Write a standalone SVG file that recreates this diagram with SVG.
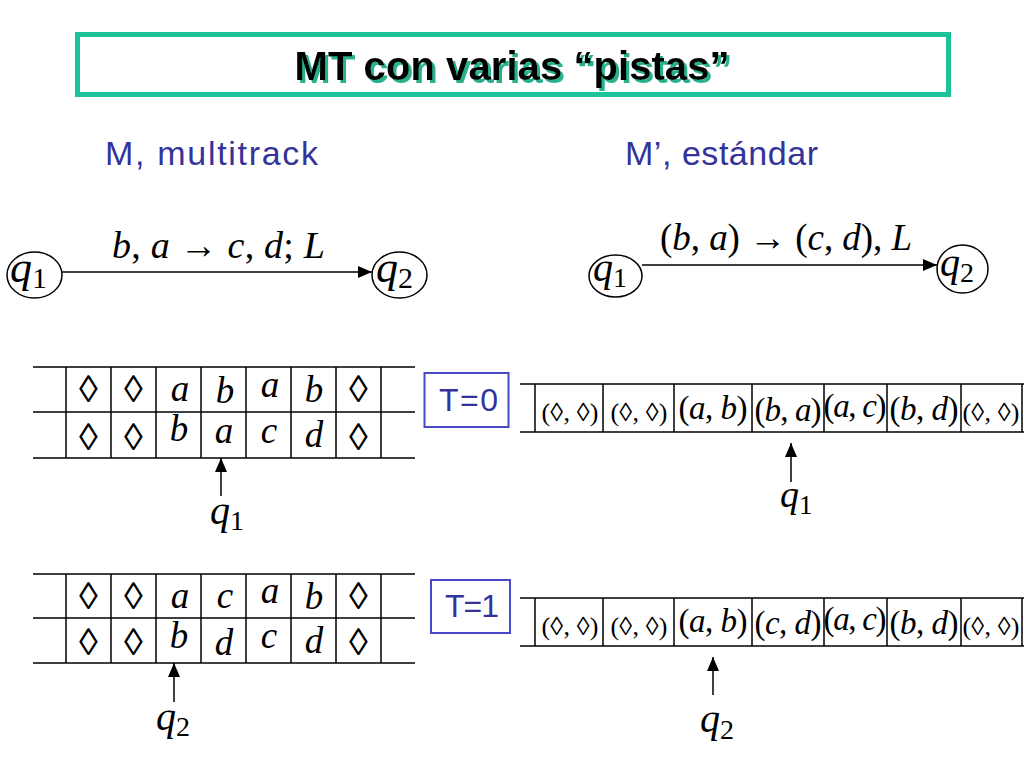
<svg xmlns="http://www.w3.org/2000/svg" width="1024" height="768" viewBox="0 0 1024 768">
<defs>
<marker id="ah" viewBox="0 0 14 12" refX="14" refY="6" markerWidth="14" markerHeight="12" markerUnits="userSpaceOnUse" orient="auto"><path d="M0,0 L14,6 L0,12 z" fill="#000"/></marker>
<filter id="sh" x="-5%" y="-20%" width="110%" height="150%">
<feFlood flood-color="#2ab08c"/><feComposite in2="SourceAlpha" operator="in"/><feOffset dx="3" dy="3"/>
<feMerge><feMergeNode/><feMergeNode in="SourceGraphic"/></feMerge>
</filter>
<style>
.m{font-family:"Liberation Serif","Times New Roman",serif;fill:#000}
.i{font-style:italic}
.ln{stroke:#000;stroke-width:1.5;fill:none}
.st{fill:#fff;stroke:#000;stroke-width:1.5}
.blue{font-family:"Liberation Sans",Arial,sans-serif;fill:#333399}
.tb{fill:#fff;stroke:#4848c8;stroke-width:2}
.dm{font-size:38px;text-anchor:middle}
.lt{font-size:37px;text-anchor:middle;font-style:italic}
.pr{text-anchor:middle}
</style>
</defs>
<rect width="1024" height="768" fill="#fff"/>

<g id="title">
<rect x="77.5" y="34.5" width="871" height="60" fill="#fff" stroke="#1cc29a" stroke-width="5"/>
<text x="512" y="80" text-anchor="middle" textLength="435" font-family="Liberation Sans, Arial, sans-serif" font-weight="bold" font-size="40" fill="#000" filter="url(#sh)">MT con varias “pistas”</text>
</g>

<g id="subtitle-m">
<text class="blue" x="105" y="165" font-size="34" textLength="213">M, multitrack</text>
</g>
<g id="subtitle-mp">
<text class="blue" x="625" y="165" font-size="34" textLength="193">M’, estándar</text>
</g>

<g id="m-q1">
<ellipse class="st" cx="34.5" cy="275" rx="27.5" ry="23"/>
<text class="m" x="10" y="282" font-size="44"><tspan class="i">q</tspan><tspan font-size="30" dy="6">1</tspan></text>
</g>
<g id="m-q2">
<ellipse class="st" cx="399.5" cy="275" rx="27.5" ry="23"/>
<text class="m" x="376" y="282" font-size="44"><tspan class="i">q</tspan><tspan font-size="30" dy="6">2</tspan></text>
</g>
<g id="m-label">
<text class="m" x="112" y="258" font-size="38" textLength="213"><tspan class="i">b</tspan>, <tspan class="i">a</tspan> → <tspan class="i">c</tspan>, <tspan class="i">d</tspan>; <tspan class="i">L</tspan></text>
</g>

<g id="mp-q1">
<ellipse class="st" cx="615.5" cy="276" rx="26.5" ry="21"/>
<text class="m" x="593" y="281" font-size="40"><tspan class="i">q</tspan><tspan font-size="28" dy="6">1</tspan></text>
</g>
<g id="mp-q2">
<ellipse class="st" cx="962.5" cy="269" rx="25.5" ry="24"/>
<text class="m" x="940" y="276" font-size="40"><tspan class="i">q</tspan><tspan font-size="28" dy="6">2</tspan></text>
</g>
<g id="mp-label">
<text class="m" x="660" y="250" font-size="37" textLength="252">(<tspan class="i">b</tspan>, <tspan class="i">a</tspan>) → (<tspan class="i">c</tspan>, <tspan class="i">d</tspan>), <tspan class="i">L</tspan></text>
</g>

<g id="tape-m-t0">
<path class="ln" d="M33,367H415M33,412H415M33,458H415M66,367V458M111,367V458M156,367V458M201,367V458M246,367V458M291,367V458M336,367V458M381,367V458"/>
<g class="m">
<text class="dm" x="88.5" y="402">◊</text><text class="dm" x="133.5" y="402">◊</text>
<text class="lt" x="180" y="401">a</text><text class="lt" x="225" y="403">b</text><text class="lt" x="270" y="397">a</text><text class="lt" x="314" y="402">b</text>
<text class="dm" x="358.5" y="402">◊</text>
<text class="dm" x="88.5" y="450">◊</text><text class="dm" x="133.5" y="450">◊</text>
<text class="lt" x="179" y="441">b</text><text class="lt" x="224" y="443">a</text><text class="lt" x="269" y="443">c</text><text class="lt" x="314" y="447">d</text>
<text class="dm" x="358.5" y="450">◊</text>
</g>
</g>
<g id="head-m-t0">
<text class="m" x="210" y="524" font-size="40"><tspan class="i">q</tspan><tspan font-size="28" dy="6">1</tspan></text>
</g>

<g id="tape-m-t1">
<path class="ln" d="M33,574H415M33,618H415M33,663H415M66,574V663M111,574V663M156,574V663M201,574V663M246,574V663M291,574V663M336,574V663M381,574V663"/>
<g class="m">
<text class="dm" x="88.5" y="609">◊</text><text class="dm" x="133.5" y="609">◊</text>
<text class="lt" x="180" y="608">a</text><text class="lt" x="225" y="608">c</text><text class="lt" x="270" y="603">a</text><text class="lt" x="314" y="609">b</text>
<text class="dm" x="358.5" y="609">◊</text>
<text class="dm" x="88.5" y="655">◊</text><text class="dm" x="133.5" y="655">◊</text>
<text class="lt" x="179" y="648">b</text><text class="lt" x="224" y="655">d</text><text class="lt" x="269" y="648">c</text><text class="lt" x="314" y="653">d</text>
<text class="dm" x="358.5" y="655">◊</text>
</g>
</g>
<g id="head-m-t1">
<text class="m" x="156" y="730" font-size="40"><tspan class="i">q</tspan><tspan font-size="28" dy="6">2</tspan></text>
</g>

<g id="t0-box">
<rect class="tb" x="424.5" y="373" width="84" height="54"/>
<text class="blue" x="439" y="411" font-size="32" textLength="59">T=0</text>
</g>
<g id="t1-box">
<rect class="tb" x="431" y="580" width="79" height="53"/>
<text class="blue" x="445" y="617" font-size="32" textLength="54">T=1</text>
</g>

<g id="tape-mp-t0">
<path class="ln" d="M520,384H1024M520,432H1024M535,384V432M603,384V432M674,384V432M752,384V432M824,384V432M887,384V432M961,384V432M1022,384V432"/>
<g class="m">
<text class="pr" x="570" y="421" font-size="26" textLength="57">(◊, ◊)</text>
<text class="pr" x="639" y="421" font-size="26" textLength="57">(◊, ◊)</text>
<text class="pr" x="713" y="419" font-size="33" textLength="69">(<tspan class="i">a</tspan>, <tspan class="i">b</tspan>)</text>
<text class="pr" x="788" y="421" font-size="33" textLength="67">(<tspan class="i">b</tspan>, <tspan class="i">a</tspan>)</text>
<text class="pr" x="855" y="417" font-size="33" textLength="63">(<tspan class="i">a</tspan>, <tspan class="i">c</tspan>)</text>
<text class="pr" x="924" y="420" font-size="33" textLength="69">(<tspan class="i">b</tspan>, <tspan class="i">d</tspan>)</text>
<text class="pr" x="991" y="421" font-size="26" textLength="57">(◊, ◊)</text>
</g>
</g>
<g id="head-mp-t0">
<text class="m" x="780" y="507" font-size="38"><tspan class="i">q</tspan><tspan font-size="27" dy="7">1</tspan></text>
</g>

<g id="tape-mp-t1">
<path class="ln" d="M520,598H1024M520,646H1024M535,598V646M603,598V646M674,598V646M752,598V646M824,598V646M887,598V646M961,598V646M1022,598V646"/>
<g class="m">
<text class="pr" x="570" y="635" font-size="26" textLength="57">(◊, ◊)</text>
<text class="pr" x="639" y="635" font-size="26" textLength="57">(◊, ◊)</text>
<text class="pr" x="713" y="632" font-size="33" textLength="69">(<tspan class="i">a</tspan>, <tspan class="i">b</tspan>)</text>
<text class="pr" x="788" y="634" font-size="33" textLength="67">(<tspan class="i">c</tspan>, <tspan class="i">d</tspan>)</text>
<text class="pr" x="855" y="630" font-size="33" textLength="63">(<tspan class="i">a</tspan>, <tspan class="i">c</tspan>)</text>
<text class="pr" x="924" y="634" font-size="33" textLength="69">(<tspan class="i">b</tspan>, <tspan class="i">d</tspan>)</text>
<text class="pr" x="991" y="635" font-size="26" textLength="57">(◊, ◊)</text>
</g>
</g>
<g id="head-mp-t1">
<text class="m" x="700" y="732" font-size="40"><tspan class="i">q</tspan><tspan font-size="28" dy="7">2</tspan></text>
</g>

<g id="connectors">
<line class="ln" x1="62" y1="272" x2="372" y2="272" marker-end="url(#ah)"/>
<line class="ln" x1="642" y1="265" x2="937" y2="265" marker-end="url(#ah)"/>
<line class="ln" x1="221" y1="496" x2="221" y2="458" marker-end="url(#ah)"/>
<line class="ln" x1="174" y1="702" x2="174" y2="663" marker-end="url(#ah)"/>
<line class="ln" x1="791" y1="482" x2="791" y2="443" marker-end="url(#ah)"/>
<line class="ln" x1="713" y1="695" x2="713" y2="657" marker-end="url(#ah)"/>
</g>
</svg>
